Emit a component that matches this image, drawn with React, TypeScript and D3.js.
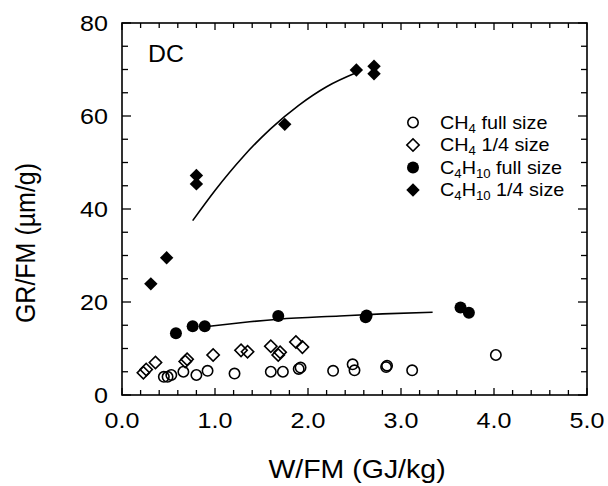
import React from "react";
import * as d3 from "d3";

const xTicks = [0, 1, 2, 3, 4, 5];
const yTicks = [0, 20, 40, 60, 80];

const ch4FullX = [0.45, 0.49, 0.53, 0.66, 0.80, 0.92, 1.21, 1.60, 1.73, 1.90, 1.92, 2.27, 2.48, 2.50, 2.84, 2.85, 3.12, 4.02];
const ch4FullY = [3.9, 3.9, 4.3, 5.0, 4.3, 5.2, 4.6, 5.0, 5.0, 5.6, 5.9, 5.2, 6.6, 5.3, 6.0, 6.3, 5.3, 8.6];

const ch4QuarterX = [0.23, 0.26, 0.36, 0.68, 0.70, 0.98, 1.28, 1.35, 1.60, 1.68, 1.70, 1.87, 1.94];
const ch4QuarterY = [4.8, 5.5, 7.0, 7.2, 7.7, 8.6, 9.6, 9.3, 10.5, 8.6, 9.2, 11.4, 10.3];

const c4FullX = [0.58, 0.76, 0.89, 1.68, 2.62, 2.63, 3.64, 3.73];
const c4FullY = [13.3, 14.8, 14.8, 17.0, 16.7, 17.1, 18.8, 17.7];

const c4QuarterX = [0.31, 0.48, 0.80, 0.80, 1.75, 2.52, 2.71, 2.71];
const c4QuarterY = [23.9, 29.5, 47.2, 45.4, 58.2, 69.9, 70.7, 69.1];

const fitFullX = [0.94, 1.3, 1.68, 2.34, 2.8, 3.34];
const fitFullY = [14.8, 15.6, 16.3, 17.0, 17.45, 17.8];

const fitQuarterX = [0.76, 1.0, 1.3, 1.6, 1.9, 2.2, 2.53];
const fitQuarterY = [37.5, 44.0, 51.2, 57.3, 62.3, 66.3, 69.4];

const legendLabels = [
  { a: "CH", s1: "4", b: "", s2: "", c: " full size" },
  { a: "CH", s1: "4", b: "", s2: "", c: " 1/4 size" },
  { a: "C", s1: "4", b: "H", s2: "10", c: " full size" },
  { a: "C", s1: "4", b: "H", s2: "10", c: " 1/4 size" },
];

const FONT = "'Liberation Sans', Arial, Helvetica, sans-serif";
const SX = 1.14;

export default function App() {
  const W = 608, H = 486;
  const x = d3.scaleLinear().domain([0, 5]).range([122, 587]);
  const y = d3.scaleLinear().domain([0, 80]).range([395, 23]);
  const x0 = x(0), x1 = x(5), y0 = y(0), y1 = y(80);

  const minorX = d3.range(0, 5.0001, 0.2).map((v) => +v.toFixed(2));
  const minorY = d3.range(0, 80.001, 5);

  const line = d3.line<[number, number]>().x((d) => x(d[0])).y((d) => y(d[1])).curve(d3.curveMonotoneX);
  const fitFull = line(fitFullX.map((v, i) => [v, fitFullY[i]] as [number, number])) || "";
  const fitQuarter = line(fitQuarterX.map((v, i) => [v, fitQuarterY[i]] as [number, number])) || "";

  const diamondOpen = d3.symbol(d3.symbolSquare, 76)() || "";
  const diamondFilled = d3.symbol(d3.symbolSquare, 90)() || "";

  const isMajorX = (v: number) => Math.abs(v - Math.round(v)) < 1e-6;
  const isMajorY = (v: number) => v % 20 === 0;

  const legendX = 413;
  const legendTextX = 440;
  const legendBase = [128.5, 151, 173.5, 196];

  const markerLegend = (i: number, cx: number, cy: number) => {
    if (i === 0) return <circle cx={cx} cy={cy} r={5.2} fill="none" stroke="#000" strokeWidth={1.6} />;
    if (i === 1) return <path d={diamondOpen} transform={`translate(${cx},${cy}) rotate(45)`} fill="none" stroke="#000" strokeWidth={1.6} />;
    if (i === 2) return <circle cx={cx} cy={cy} r={6} fill="#000" />;
    return <path d={diamondFilled} transform={`translate(${cx},${cy}) rotate(45)`} fill="#000" />;
  };

  return (
    <svg width={W} height={H} style={{ position: "absolute", left: 0, top: 0, background: "#fff" }} fontFamily={FONT}>
      <rect x={0} y={0} width={W} height={H} fill="#fff" />
      <rect x={x0} y={y1} width={x1 - x0} height={y0 - y1} fill="none" stroke="#000" strokeWidth={1.6} />
      {minorX.map((v) => {
        const len = isMajorX(v) ? 7 : 5;
        return (
          <g key={"xt" + v}>
            <line x1={x(v)} x2={x(v)} y1={y0} y2={y0 - len} stroke="#000" strokeWidth={1.3} />
            <line x1={x(v)} x2={x(v)} y1={y1} y2={y1 + len} stroke="#000" strokeWidth={1.3} />
          </g>
        );
      })}
      {minorY.map((v) => {
        const len = isMajorY(v) ? 9 : 6;
        return (
          <g key={"yt" + v}>
            <line x1={x0} x2={x0 + len} y1={y(v)} y2={y(v)} stroke="#000" strokeWidth={1.3} />
            <line x1={x1} x2={x1 - len} y1={y(v)} y2={y(v)} stroke="#000" strokeWidth={1.3} />
          </g>
        );
      })}
      {xTicks.map((v) => (
        <g key={"xl" + v} transform={`translate(${x(v)},${428}) scale(${SX},1)`}>
          <text textAnchor="middle" fontSize={22} fill="#000">{v.toFixed(1)}</text>
        </g>
      ))}
      {yTicks.map((v) => (
        <g key={"yl" + v} transform={`translate(${108},${y(v) + 8}) scale(${SX},1)`}>
          <text textAnchor="end" fontSize={22} fill="#000">{v}</text>
        </g>
      ))}
      <g transform={`translate(357,478) scale(${SX},1)`}>
        <text textAnchor="middle" fontSize={25} fill="#000">W/FM (GJ/kg)</text>
      </g>
      <g transform={`translate(35,243) rotate(-90) scale(1,${SX})`}>
        <text textAnchor="middle" fontSize={25} fill="#000">GR/FM (µm/g)</text>
      </g>
      <g transform={`translate(148,62) scale(1.08,1)`}>
        <text fontSize={23} fill="#000">DC</text>
      </g>
      <path d={fitQuarter} fill="none" stroke="#000" strokeWidth={1.6} />
      <path d={fitFull} fill="none" stroke="#000" strokeWidth={1.6} />
      {ch4FullX.map((v, i) => (
        <circle key={"cf" + i} cx={x(v)} cy={y(ch4FullY[i])} r={5.2} fill="none" stroke="#000" strokeWidth={1.6} />
      ))}
      {ch4QuarterX.map((v, i) => (
        <path key={"cq" + i} d={diamondOpen} transform={`translate(${x(v)},${y(ch4QuarterY[i])}) rotate(45)`} fill="none" stroke="#000" strokeWidth={1.6} />
      ))}
      {c4FullX.map((v, i) => (
        <circle key={"bf" + i} cx={x(v)} cy={y(c4FullY[i])} r={6} fill="#000" />
      ))}
      {c4QuarterX.map((v, i) => (
        <path key={"bq" + i} d={diamondFilled} transform={`translate(${x(v)},${y(c4QuarterY[i])}) rotate(45)`} fill="#000" />
      ))}
      {legendLabels.map((l, i) => (
        <g key={"lg" + i}>
          {markerLegend(i, legendX, legendBase[i] - 6)}
          <g transform={`translate(${legendTextX},${legendBase[i]}) scale(1.1,1)`}>
            <text fontSize={18} fill="#000">
              {l.a}
              <tspan fontSize={12} dy={4}>{l.s1}</tspan>
              {l.b ? <tspan dy={-4}>{l.b}</tspan> : null}
              {l.s2 ? <tspan fontSize={12} dy={4}>{l.s2}</tspan> : null}
              <tspan dy={-4}>{l.c}</tspan>
            </text>
          </g>
        </g>
      ))}
    </svg>
  );
}
